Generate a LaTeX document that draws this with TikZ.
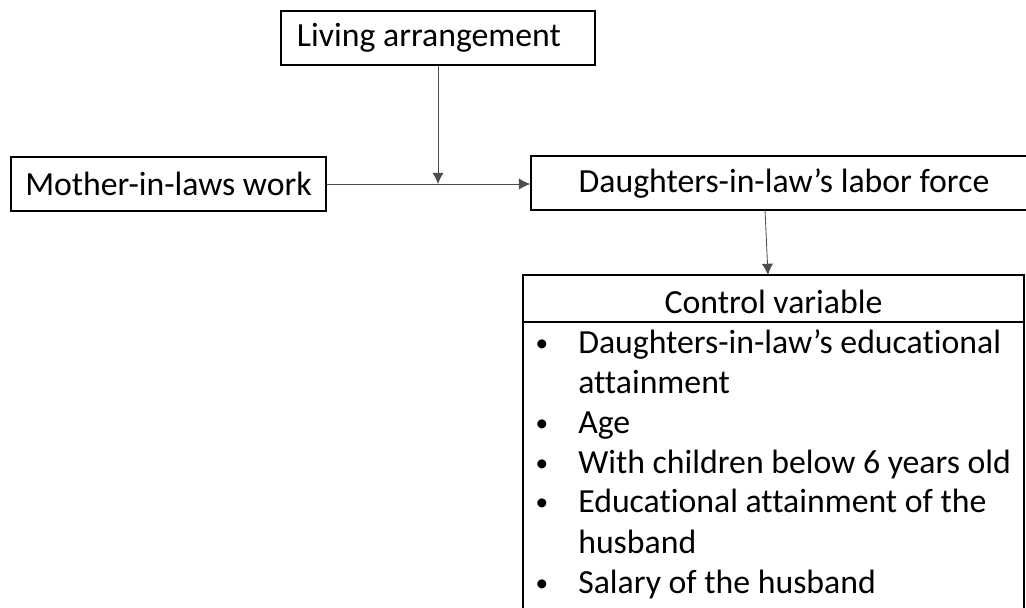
\documentclass[tikz,border=0pt]{standalone}
\usepackage{fontspec}
\setmainfont{Carlito}[Ligatures=NoCommon]
\usetikzlibrary{arrows.meta}
\tikzset{>={Latex[length=8pt,width=8pt]}}
\tikzset{
  box/.style={draw, line width=1pt, inner sep=0pt, minimum height=1.35cm},
  link/.style={->, draw=black!70, line width=0.6pt},
  item/.style={anchor=base west, inner sep=0pt},
  dot/.style={anchor=base, inner sep=0pt, font=\fontsize{18}{22}\selectfont}
}

\begin{document}
\begin{tikzpicture}[x=0.025cm, y=-0.025cm, font=\fontsize{24}{29}\selectfont]
            \useasboundingbox (0,0) rectangle (1026,607);
            \node[box, minimum width=7.85cm, text width=7.05cm, inner xsep=0.4cm, align=flush left] (liv) at (438,38) {Living arrangement};
            \node[box, minimum width=7.875cm] (mom) at (168.5,184) {Mother-in-laws work};
            \node[box, minimum width=12.65cm] (dau) at (784,183) {Daughters-in-law’s labor force};
            \node[box, minimum width=12.525cm, minimum height=9.375cm] (ctrl) at (773.5,462.5) {};
            \draw[line width=0.8pt] (ctrl.west |- 0,322) -- (ctrl.east |- 0,322);
            \node[anchor=base, inner sep=0pt] (head) at (773.5,313) {Control variable};
            % bullet list
            \foreach \y/\txt/\b in {353/Daughters-in-law’s educational/1, 393/attainment/0, 433/Age/1,
                473/With children below 6 years old/1, 512/Educational attainment of the/1,
                553/husband/0, 593/Salary of the husband/1} {
              \node[item] (t\y) at (578,\y) {\txt};
              \ifnum\b=1 \node[dot] (b\y) at (542,\y-2) {•};\fi
            }
            \coordinate (join) at (liv.south |- mom.east);
            \coordinate (dtop) at (765,210);
            \coordinate (cbot) at (768,275);
            \draw[link] (mom.east) -- (mom.east -| dau.west);
            \draw[link] (liv.south) -- (join);
            \draw[link] (dtop) -- (cbot);
        \end{tikzpicture}
\end{document}
